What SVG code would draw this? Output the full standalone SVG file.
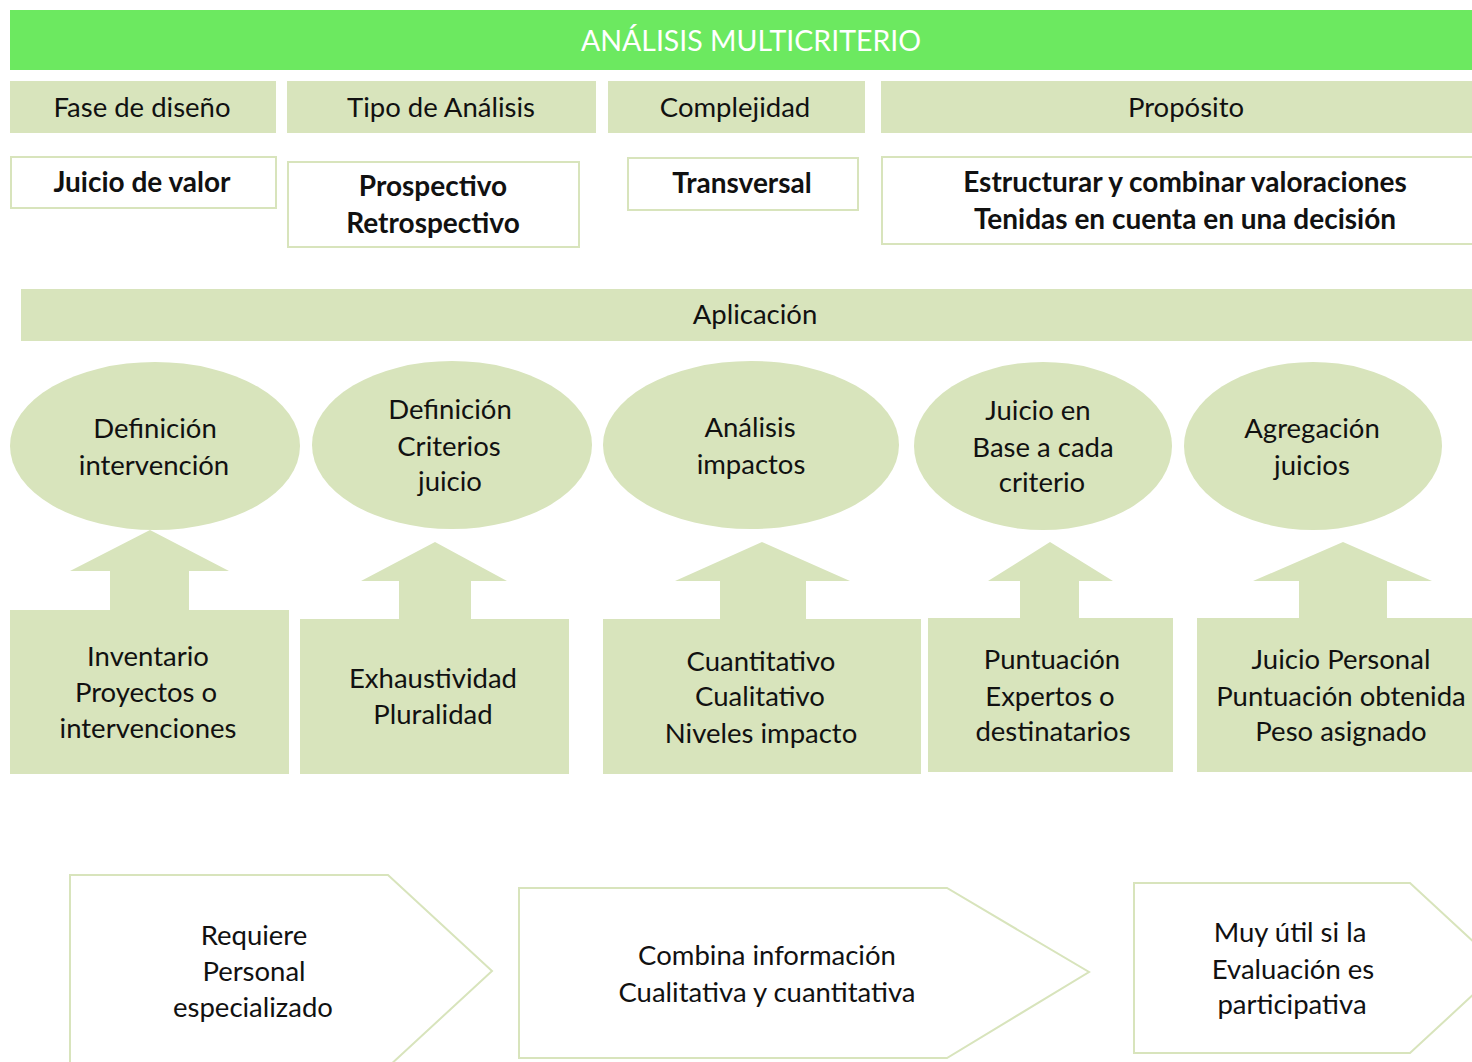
<svg xmlns="http://www.w3.org/2000/svg" width="1472" height="1062" viewBox="0 0 1472 1062">
<style>
.t{font-family:Lato,"Open Sans",sans-serif;font-size:27.5px;fill:#111;text-anchor:middle;dominant-baseline:central}
.b{font-weight:bold;font-size:28px}
.fill{fill:#D8E4BC}
.wbox{fill:#fff;stroke:#D8E4BC;stroke-width:2}
</style>
<rect width="1472" height="1062" fill="#fff"/>
<g id="title"><rect x="10" y="10" width="1470" height="60" fill="#6CE960"/><text class="t" x="751" y="40" style="fill:#fff;font-size:28.5px">ANÁLISIS MULTICRITERIO</text></g>

<g id="h1"><rect class="fill" x="10" y="81" width="266" height="52"/><text class="t" x="142" y="106">Fase de diseño</text></g>
<g id="h2"><rect class="fill" x="287" y="81" width="309" height="52"/><text class="t" x="441" y="106">Tipo de Análisis</text></g>
<g id="h3"><rect class="fill" x="608" y="81" width="257" height="52"/><text class="t" x="735" y="106">Complejidad</text></g>
<g id="h4"><rect class="fill" x="881" y="81" width="595" height="52"/><text class="t" x="1186" y="106">Propósito</text></g>

<g id="v1"><rect class="wbox" x="11" y="157" width="265" height="51"/><text class="t b" x="142" y="181">Juicio de valor</text></g>
<g id="v2"><rect class="wbox" x="288" y="162" width="291" height="85"/><text class="t b" x="433" y="185">Prospectivo</text><text class="t b" x="433" y="222">Retrospectivo</text></g>
<g id="v3"><rect class="wbox" x="628" y="158" width="230" height="52"/><text class="t b" x="742" y="182">Transversal</text></g>
<g id="v4"><rect class="wbox" x="882" y="157" width="600" height="87"/><text class="t b" x="1185" y="181">Estructurar y combinar valoraciones</text><text class="t b" x="1185" y="218">Tenidas en cuenta en una decisión</text></g>

<g id="aplicacion"><rect class="fill" x="21" y="289" width="1455" height="52"/><text class="t" x="755" y="313">Aplicación</text></g>

<g id="e1"><ellipse class="fill" cx="155" cy="446" rx="145" ry="84"/><text class="t" x="155" y="427">Definición</text><text class="t" x="154" y="464">intervención</text></g>
<g id="e2"><ellipse class="fill" cx="452" cy="445" rx="140" ry="84"/><text class="t" x="450" y="408">Definición</text><text class="t" x="449" y="445">Criterios</text><text class="t" x="450" y="480">juicio</text></g>
<g id="e3"><ellipse class="fill" cx="751" cy="445" rx="148" ry="84"/><text class="t" x="750" y="426">Análisis</text><text class="t" x="751" y="463">impactos</text></g>
<g id="e4"><ellipse class="fill" cx="1043" cy="446" rx="129" ry="84"/><text class="t" x="1038" y="409">Juicio en</text><text class="t" x="1043" y="446">Base a cada</text><text class="t" x="1042" y="481">criterio</text></g>
<g id="e5"><ellipse class="fill" cx="1313" cy="446" rx="129" ry="84"/><text class="t" x="1312" y="427">Agregación</text><text class="t" x="1312" y="464">juicios</text></g>

<g id="a1"><path class="fill" d="M10 610 H110 V571 H70 L150 530 L229 571 H189 V610 H289 V774 H10 Z"/><text class="t" x="148" y="655">Inventario</text><text class="t" x="146" y="691">Proyectos o</text><text class="t" x="148" y="727">intervenciones</text></g>
<g id="a2"><path class="fill" d="M300 619 H399 V581 H361 L435 542 L507 581 H471 V619 H569 V774 H300 Z"/><text class="t" x="433" y="677">Exhaustividad</text><text class="t" x="433" y="713">Pluralidad</text></g>
<g id="a3"><path class="fill" d="M603 619 H720 V581 H675 L762 542 L850 581 H806 V619 H921 V774 H603 Z"/><text class="t" x="761" y="660">Cuantitativo</text><text class="t" x="760" y="695">Cualitativo</text><text class="t" x="761" y="732">Niveles impacto</text></g>
<g id="a4"><path class="fill" d="M928 618 H1020 V581 H988 L1050 542 L1113 581 H1079 V618 H1173 V772 H928 Z"/><text class="t" x="1052" y="658">Puntuación</text><text class="t" x="1050" y="695">Expertos o</text><text class="t" x="1053" y="730">destinatarios</text></g>
<g id="a5"><path class="fill" d="M1197 618 H1299 V581 H1253 L1343 542 L1432 581 H1387 V618 H1476 V772 H1197 Z"/><text class="t" x="1341" y="658">Juicio Personal</text><text class="t" x="1341" y="695">Puntuación obtenida</text><text class="t" x="1341" y="730">Peso asignado</text></g>

<g id="p1"><path class="wbox" d="M70 875 H388 L492 971 L388 1067 H70 Z"/><text class="t" x="254" y="934">Requiere</text><text class="t" x="254" y="970">Personal</text><text class="t" x="253" y="1006">especializado</text></g>
<g id="p2"><path class="wbox" d="M519 888 H947 L1089 972 L947 1058 H519 Z"/><text class="t" x="767" y="954">Combina información</text><text class="t" x="767" y="991">Cualitativa y cuantitativa</text></g>
<g id="p3"><path class="wbox" d="M1134 883 H1410 L1502 968 L1410 1053 H1134 Z"/><text class="t" x="1290" y="931">Muy útil si la</text><text class="t" x="1293" y="968">Evaluación es</text><text class="t" x="1292" y="1003">participativa</text></g>
<g id="connectors"></g>
</svg>
